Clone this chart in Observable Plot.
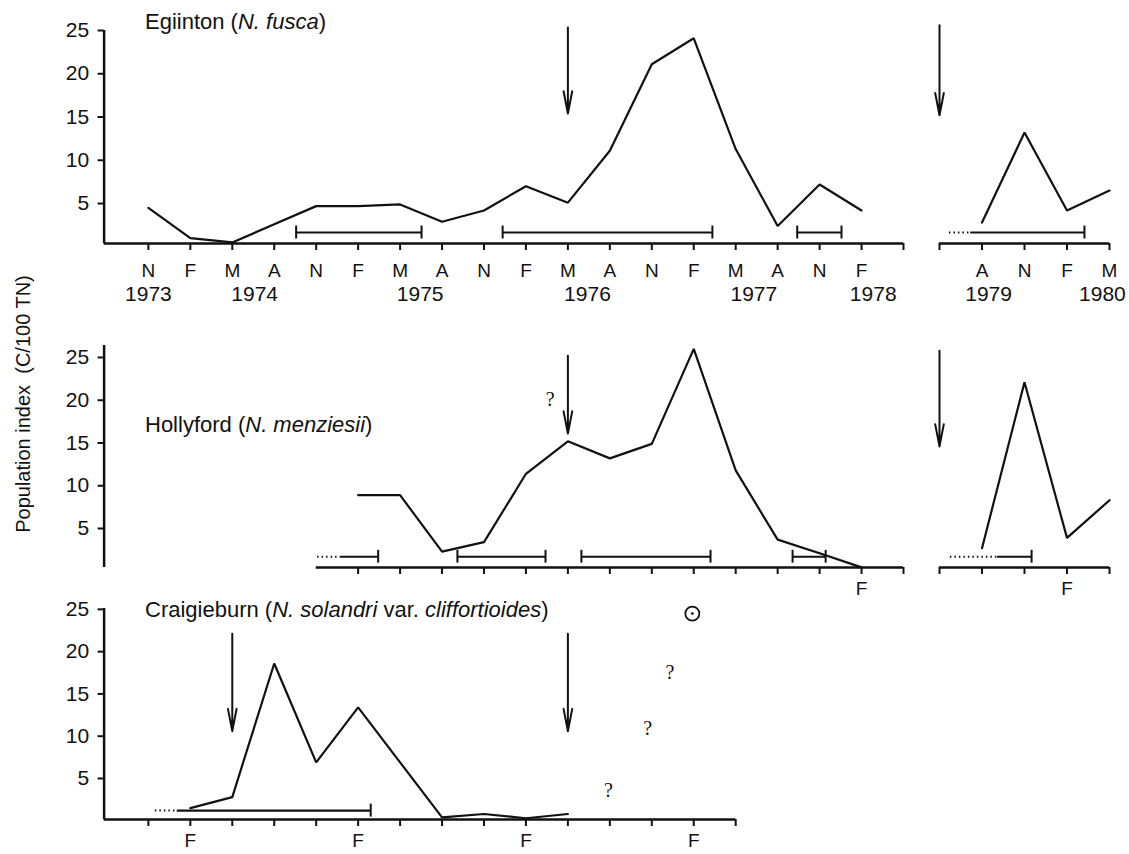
<!DOCTYPE html>
<html>
<head>
<meta charset="utf-8">
<script src="https://cdn.jsdelivr.net/npm/d3@7"></script>
<script src="https://cdn.jsdelivr.net/npm/@observablehq/plot@0.6"></script>
<style>
  html, body { margin: 0; padding: 0; background: #fff; }
  #chart { position: relative; width: 1129px; height: 854px; overflow: hidden; background: #fff; }
  #chart svg { position: absolute; left: 0; top: 0; }
</style>
</head>
<body>
<div id="chart"></div>
<script>
// ================= DATA =================
// Eglinton (N. fusca)
const eglintonDatesA  = ["1973-11","1974-02","1974-05","1974-08","1974-11","1975-02","1975-05","1975-08","1975-11","1976-02","1976-05","1976-08","1976-11","1977-02","1977-05","1977-08","1977-11","1978-02"];
const eglintonValuesA = [4.5, 1.0, 0.5, 2.6, 4.7, 4.7, 4.9, 2.9, 4.2, 7.0, 5.1, 11.1, 21.1, 24.1, 11.3, 2.4, 7.2, 4.2];
const eglintonDatesB  = ["1979-08","1979-11","1980-02","1980-05"];
const eglintonValuesB = [2.8, 13.2, 4.2, 6.5];
const eglintonPeriodStart = ["1974-09-18","1975-12-11","1977-09-13","1979-07-07"];
const eglintonPeriodEnd   = ["1975-06-17","1977-03-11","1977-12-18","1980-03-08"];
const eglintonPeriodOpen  = ["","","","1979-05-22"];
const eglintonArrowDates  = ["1976-05","1979-05"];
const eglintonArrowTop    = [25.35, 25.6];
const eglintonArrowTip    = [15.4, 15.2];

// Hollyford (N. menziesii)
const hollyfordDatesA  = ["1975-02","1975-05","1975-08","1975-11","1976-02","1976-05","1976-08","1976-11","1977-02","1977-05","1977-08","1977-11","1978-02"];
const hollyfordValuesA = [8.9, 8.9, 2.3, 3.4, 11.4, 15.2, 13.2, 14.9, 26.0, 11.8, 3.7, 2.1, 0.45];
const hollyfordDatesB  = ["1979-08","1979-11","1980-02","1980-05"];
const hollyfordValuesB = [2.7, 22.1, 3.9, 8.3];
const hollyfordPeriodStart = ["1974-12-25","1975-09-04","1976-05-30","1977-09-03","1979-09-04"];
const hollyfordPeriodEnd   = ["1975-03-14","1976-03-13","1977-03-07","1977-11-14","1979-11-16"];
const hollyfordPeriodOpen  = ["1974-11-04","","","","1979-05-24"];
const hollyfordArrowDates  = ["1976-05","1979-05"];
const hollyfordArrowTop    = [25.2, 25.8];
const hollyfordArrowTip    = [16.1, 14.6];
const hollyfordQueryDates  = ["1976-03-23"];
const hollyfordQueryValues = [20.1];

// Craigieburn (N. solandri var. cliffortioides)
const craigieburnDates  = ["1974-02","1974-05","1974-08","1974-11","1975-02","1975-05","1975-08","1975-11","1976-02","1976-05"];
const craigieburnValues = [1.5, 2.8, 18.6, 6.9, 13.4, 6.9, 0.4, 0.8, 0.3, 0.8];
const craigieburnPeriodStart = ["1974-01-03"];
const craigieburnPeriodEnd   = ["1975-02-28"];
const craigieburnPeriodOpen  = ["1973-11-16"];
const craigieburnArrowDates  = ["1974-05","1976-05"];
const craigieburnArrowTop    = [22.1, 22.1];
const craigieburnArrowTip    = [10.6, 10.6];
const craigieburnQueryDates  = ["1976-07-28","1976-10-22","1976-12-10"];
const craigieburnQueryValues = [3.6, 10.9, 17.5];
const craigieburnCircleDates  = ["1977-01-28"];
const craigieburnCircleValues = [24.5];

// Axis ticks and labels
const topTicks = ["1973-11","1974-02","1974-05","1974-08","1974-11","1975-02","1975-05","1975-08","1975-11","1976-02","1976-05","1976-08","1976-11","1977-02","1977-05","1977-08","1977-11","1978-02","1978-05","1979-05","1979-08","1979-11","1980-02","1980-05"];
const topTickLabels = ["N","F","M","A","N","F","M","A","N","F","M","A","N","F","M","A","N","F","","","A","N","F","M"];
const midTicks = ["1975-02","1975-05","1975-08","1975-11","1976-02","1976-05","1976-08","1976-11","1977-02","1977-05","1977-08","1977-11","1978-02","1978-05","1979-05","1979-08","1979-11","1980-02","1980-05"];
const midTickLabels = ["","","","","","","","","","","","","F","","","","","F",""];
const botTicks = ["1973-11","1974-02","1974-05","1974-08","1974-11","1975-02","1975-05","1975-08","1975-11","1976-02","1976-05","1976-08","1976-11","1977-02","1977-05"];
const botTickLabels = ["","F","","","","F","","","","F","","","","F",""];
const yearLabels = ["1973","1974","1975","1976","1977","1978","1979","1980"];
const yearLabelDates = ["1973-11","1974-06-19","1975-06-14","1976-06-13","1977-06-10","1978-02-26","1979-08-15","1980-04-16"];

const panelTitles = [
  [["Egiinton (", false], ["N. fusca", true], [")", false]],
  [["Hollyford (", false], ["N. menziesii", true], [")", false]],
  [["Craigieburn (", false], ["N. solandri", true], [" var. ", false], ["cliffortioides", true], [")", false]]
];
const yAxisTitle = "Population index  (C/100 TN)";

// ================= HELPERS =================
const INK = "#111";
const FONT = "'Liberation Sans', Arial, Helvetica, sans-serif";
// fractional month index since Jan 1973
const mi = s => { const p = s.split("-").map(Number); return (p[0] - 1973) * 12 + (p[1] - 1) + (p[2] ? (p[2] - 1) / 30 : 0); };

// broken time axis: 1973-1978 block, then 1979-1980 block
const X_DOMAIN = [mi("1973-07-26"), mi("1978-05"), mi("1979-05"), mi("1980-05")];
const X_RANGE = [103.6, 903, 939, 1109];

function rows(dates, values) { return dates.map((d, i) => ({x: mi(d), y: values[i]})); }
function periods(starts, ends, opens) {
  return starts.map((s, i) => ({start: mi(s), end: mi(ends[i]), open: opens[i] ? mi(opens[i]) : null}));
}

function panel(cfg) {
  const per = periods(cfg.pStart, cfg.pEnd, cfg.pOpen);
  const arrows = cfg.arrowDates.map((d, i) => ({x: mi(d), top: cfg.arrowTop[i], tip: cfg.arrowTip[i]}));
  const tickVals = cfg.ticks.map(mi);
  const labelOf = new Map(tickVals.map((v, i) => [v, cfg.tickLabels[i]]));
  const lvl = cfg.periodLevel;
  const marks = [
    Plot.ruleX([X_DOMAIN[0]], {stroke: INK, strokeWidth: 2.5}),
    Plot.axisY({ticks: [5, 10, 15, 20, 25], tickSize: 6, tickPadding: 9, fontSize: 21, strokeWidth: 2}),
    ...cfg.axisSegments.map(([a, b]) => Plot.ruleY([cfg.yDomain[0]], {x1: mi(a), x2: mi(b), stroke: INK, strokeWidth: 2.5})),
    Plot.axisX({ticks: tickVals, tickFormat: v => labelOf.get(v) || "", tickSize: 7, tickPadding: cfg.tickPadding, fontSize: 19, strokeWidth: 2}),
    // periods
    Plot.ruleY(per, {y: lvl, x1: "start", x2: "end", stroke: INK, strokeWidth: 2.2}),
    Plot.ruleY(per.filter(p => p.open != null), {y: lvl, x1: "open", x2: "start", stroke: INK, strokeWidth: 2, strokeDasharray: "1.5,3"}),
    Plot.ruleX(per.filter(p => p.open == null), {x: "start", y1: lvl - cfg.capHalf, y2: lvl + cfg.capHalf, stroke: INK, strokeWidth: 2}),
    Plot.ruleX(per, {x: "end", y1: lvl - cfg.capHalf, y2: lvl + cfg.capHalf, stroke: INK, strokeWidth: 2}),
    // series
    ...cfg.series.map(s => Plot.line(rows(s[0], s[1]), {x: "x", y: "y", stroke: INK, strokeWidth: 2.2, strokeLinejoin: "miter"})),
    // arrows
    Plot.arrow(arrows, {x1: "x", x2: "x", y1: "top", y2: "tip", stroke: INK, strokeWidth: 2, headLength: 17, headAngle: 22})
  ];
  if (cfg.queries) marks.push(Plot.text(rows(cfg.queries[0], cfg.queries[1]), {x: "x", y: "y", text: () => "?", fontSize: 20, fontFamily: "'Liberation Serif', serif", fill: INK}));
  if (cfg.circles) {
    const c = rows(cfg.circles[0], cfg.circles[1]);
    marks.push(Plot.dot(c, {x: "x", y: "y", r: 7, stroke: INK, strokeWidth: 1.8, fill: "none"}));
    marks.push(Plot.dot(c, {x: "x", y: "y", r: 1.4, fill: INK, stroke: null}));
  }
  if (cfg.years) marks.push(Plot.text(yearLabels, {x: (d, i) => mi(yearLabelDates[i]), text: d => d, frameAnchor: "bottom", dy: 57, fontSize: 21, fill: INK}));

  const svg = Plot.plot({
    width: 1129, height: 854,
    marginLeft: 103.6, marginRight: 20, marginTop: cfg.marginTop, marginBottom: cfg.marginBottom,
    x: {type: "linear", domain: X_DOMAIN, range: X_RANGE, label: null},
    y: {type: "linear", domain: cfg.yDomain, label: null},
    style: {background: "transparent", fontFamily: FONT, color: INK, overflow: "visible"},
    marks
  });
  // panel title with italic species names
  const t = d3.select(svg).append("text").attr("x", 145).attr("y", cfg.titleBaseline)
    .attr("text-anchor", "start").attr("font-size", 22).attr("fill", INK).style("font-family", FONT);
  cfg.title.forEach(([s, it]) => t.append("tspan").attr("font-style", it ? "italic" : "normal").text(s));
  return svg;
}

(function () {
  const root = document.getElementById("chart");

  const svgTop = panel({
    yDomain: [0.38, 25], marginTop: 30, marginBottom: 854 - 243,
    ticks: topTicks, tickLabels: topTickLabels, tickPadding: 13,
    axisSegments: [["1973-07-26", "1978-05"], ["1979-05", "1980-05"]],
    series: [[eglintonDatesA, eglintonValuesA], [eglintonDatesB, eglintonValuesB]],
    pStart: eglintonPeriodStart, pEnd: eglintonPeriodEnd, pOpen: eglintonPeriodOpen,
    periodLevel: 1.65, capHalf: 0.75,
    arrowDates: eglintonArrowDates, arrowTop: eglintonArrowTop, arrowTip: eglintonArrowTip,
    years: true, title: panelTitles[0], titleBaseline: 29
  });
  const svgMid = panel({
    yDomain: [0.44, 26.4], marginTop: 345, marginBottom: 854 - 567,
    ticks: midTicks, tickLabels: midTickLabels, tickPadding: 7,
    axisSegments: [["1974-11", "1978-05"], ["1979-05", "1980-05"]],
    series: [[hollyfordDatesA, hollyfordValuesA], [hollyfordDatesB, hollyfordValuesB]],
    pStart: hollyfordPeriodStart, pEnd: hollyfordPeriodEnd, pOpen: hollyfordPeriodOpen,
    periodLevel: 1.7, capHalf: 0.75,
    arrowDates: hollyfordArrowDates, arrowTop: hollyfordArrowTop, arrowTip: hollyfordArrowTip,
    queries: [hollyfordQueryDates, hollyfordQueryValues],
    title: panelTitles[1], titleBaseline: 432
  });
  const svgBot = panel({
    yDomain: [0.15, 25.1], marginTop: 608, marginBottom: 854 - 819,
    ticks: botTicks, tickLabels: botTickLabels, tickPadding: 7,
    axisSegments: [["1973-07-26", "1977-05"]],
    series: [[craigieburnDates, craigieburnValues]],
    pStart: craigieburnPeriodStart, pEnd: craigieburnPeriodEnd, pOpen: craigieburnPeriodOpen,
    periodLevel: 1.2, capHalf: 0.77,
    arrowDates: craigieburnArrowDates, arrowTop: craigieburnArrowTop, arrowTip: craigieburnArrowTip,
    queries: [craigieburnQueryDates, craigieburnQueryValues],
    circles: [craigieburnCircleDates, craigieburnCircleValues],
    title: panelTitles[2], titleBaseline: 617
  });

  // shared y-axis title
  d3.select(svgTop).append("text")
    .attr("transform", "translate(30,404) rotate(-90)")
    .attr("text-anchor", "middle").attr("font-size", 20).attr("fill", INK)
    .style("font-family", FONT).text(yAxisTitle);

  root.append(svgTop, svgMid, svgBot);
})();
</script>
</body>
</html>
